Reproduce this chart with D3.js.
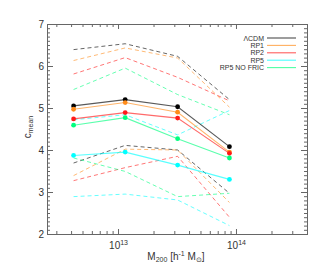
<!DOCTYPE html>
<html>
<head>
<meta charset="utf-8">
<script src="https://cdn.jsdelivr.net/npm/d3@7"></script>
<style>
  body { margin: 0; background: #fff; }
  text { font-family: "Liberation Sans", Arial, sans-serif; fill: #333; }
</style>
</head>
<body>
<div id="chart"></div>
<script>
// chart size and plot frame
const width = 319;
const height = 266;
const margin = {left: 47, right: 12, top: 24, bottom: 32};

// halo masses of the four bins
const mass = [4.2e12, 1.15e13, 3.2e13, 8.8e13];

// series names + colours
const names = ["ΛCDM", "RP1", "RP2", "RP5", "RP5 NO FRIC"];
const colors = ["#000000", "#ff8c1a", "#ff1a1a", "#00ffff", "#00ff7f"];

// mean concentration (solid lines)
const lcdm = [5.05, 5.20, 5.03, 4.08];
const rp1 = [4.97, 5.13, 4.90, 3.95];
const rp2 = [4.74, 4.89, 4.76, 3.92];
const rp5 = [3.87, 3.95, 3.64, 3.30];
const rp5nf = [4.59, 4.77, 4.27, 3.81];

// upper scatter (dashed)
const lcdmHi = [6.39, 6.53, 6.23, 5.20];
const rp1Hi = [6.13, 6.43, 6.19, 5.02];
const rp2Hi = [5.81, 6.20, 5.73, 5.17];
const rp5Hi = [4.72, 4.84, 4.36, 4.94];
const rp5nfHi = [5.44, 5.95, 5.32, 4.84];

// lower scatter (dashed)
const lcdmLo = [3.69, 4.11, 4.00, 2.97];
const rp1Lo = [3.39, 4.02, 4.00, 2.75];
const rp2Lo = [3.27, 3.58, 3.85, 2.40];
const rp5Lo = [2.89, 2.95, 2.81, 2.20];
const rp5nfLo = [3.81, 3.49, 2.89, 2.97];

// tick values
const yMajor = [2, 3, 4, 5, 6, 7];
const yMinor = d3.range(20, 71).map(d => d / 10);
const xMajor = [1e13, 1e14];
const xMinor = [3e12, 4e12, 5e12, 6e12, 7e12, 8e12, 9e12,
                2e13, 3e13, 4e13, 5e13, 6e13, 7e13, 8e13, 9e13,
                2e14, 3e14, 4e14];

const means = [lcdm, rp1, rp2, rp5, rp5nf];
const highs = [lcdmHi, rp1Hi, rp2Hi, rp5Hi, rp5nfHi];
const lows = [lcdmLo, rp1Lo, rp2Lo, rp5Lo, rp5nfLo];

const svg = d3.select("#chart")
  .append("svg")
  .attr("width", width)
  .attr("height", height);

const x = d3.scaleLog()
  .domain([2.5e12, 4e14])
  .range([margin.left, width - margin.right]);

const y = d3.scaleLinear()
  .domain([2, 7])
  .range([height - margin.bottom, margin.top]);

const frameColor = "#666";

// draws one axis and greys it out
function addAxis(axis, tx, ty) {
  const g = svg.append("g")
    .attr("transform", `translate(${tx},${ty})`)
    .call(axis);
  g.select(".domain").attr("stroke", frameColor);
  g.selectAll(".tick line").attr("stroke", frameColor);
  g.selectAll(".tick text")
    .attr("font-size", "10px")
    .attr("fill", "#333")
    .attr("font-family", "Liberation Sans, Arial, sans-serif");
  return g;
}

// y axes (left labelled, right mirror)
addAxis(d3.axisLeft(y).tickValues(yMinor).tickSize(-3).tickFormat(""), margin.left, 0);
addAxis(d3.axisLeft(y).tickValues(yMajor).tickSize(-6).tickPadding(3).tickFormat(d3.format("d")), margin.left, 0);
addAxis(d3.axisRight(y).tickValues(yMinor).tickSize(-3).tickFormat(""), width - margin.right, 0);
addAxis(d3.axisRight(y).tickValues(yMajor).tickSize(-6).tickFormat(""), width - margin.right, 0);

// x axes (bottom labelled, top mirror)
addAxis(d3.axisBottom(x).tickValues(xMinor).tickSize(-3).tickFormat(""), 0, height - margin.bottom);
const xb = addAxis(d3.axisBottom(x).tickValues(xMajor).tickSize(-5).tickPadding(6).tickFormat(""), 0, height - margin.bottom);
addAxis(d3.axisTop(x).tickValues(xMinor).tickSize(-3).tickFormat(""), 0, margin.top);
addAxis(d3.axisTop(x).tickValues(xMajor).tickSize(-5).tickFormat(""), 0, margin.top);

// 10^n labels with superscripts
xb.selectAll(".tick").append("text")
  .attr("y", 15)
  .attr("text-anchor", "middle")
  .attr("font-size", "10px")
  .each(function(d) {
    const t = d3.select(this);
    t.append("tspan").text("10");
    t.append("tspan").attr("dy", -4).attr("font-size", "7px").text(Math.round(Math.log10(d)));
  });

// axis titles
const xt = svg.append("text")
  .attr("x", 176)
  .attr("y", 260)
  .attr("text-anchor", "middle")
  .attr("font-size", "10px");
xt.append("tspan").text("M");
xt.append("tspan").attr("dy", 2).attr("font-size", "7px").text("200");
xt.append("tspan").attr("dy", -2).text(" [h");
xt.append("tspan").attr("dy", -4).attr("font-size", "7px").text("-1");
xt.append("tspan").attr("dy", 4).text(" M");
xt.append("tspan").attr("dy", 2).attr("font-size", "7px").text("⊙");
xt.append("tspan").attr("dy", -2).text("]");

const yt = svg.append("text")
  .attr("transform", "translate(31,127) rotate(-90)")
  .attr("text-anchor", "middle")
  .attr("font-size", "10px");
yt.append("tspan").text("c");
yt.append("tspan").attr("dy", 2).attr("font-size", "7px").text("mean");

const line = d3.line()
  .x((d, i) => x(mass[i]))
  .y(d => y(d));

// dashed scatter lines
highs.concat(lows).forEach((s, k) => {
  svg.append("path")
    .datum(s)
    .attr("d", line)
    .attr("fill", "none")
    .attr("stroke", colors[k % 5])
    .attr("stroke-opacity", 0.6)
    .attr("stroke-width", 1)
    .attr("stroke-dasharray", "4,3");
});

// solid mean lines + dots
means.forEach((s, k) => {
  svg.append("path")
    .datum(s)
    .attr("d", line)
    .attr("fill", "none")
    .attr("stroke", colors[k])
    .attr("stroke-opacity", 0.65)
    .attr("stroke-width", 1.1);
});
means.forEach((s, k) => {
  svg.selectAll(".dot" + k)
    .data(s)
    .enter()
    .append("circle")
      .attr("class", "dot" + k)
      .attr("cx", (d, i) => x(mass[i]))
      .attr("cy", d => y(d))
      .attr("r", 2.4)
      .attr("fill", colors[k]);
});

// legend
const legend = svg.append("g");
names.forEach((n, k) => {
  const ly = 38 + k * 7.4;
  legend.append("text")
    .attr("x", 264)
    .attr("y", ly + 2.5)
    .attr("text-anchor", "end")
    .attr("font-size", "7px")
    .text(n);
  legend.append("line")
    .attr("x1", 267).attr("x2", 296)
    .attr("y1", ly).attr("y2", ly)
    .attr("stroke", colors[k])
    .attr("stroke-opacity", 0.7)
    .attr("stroke-width", 1.1);
});
</script>
</body>
</html>
